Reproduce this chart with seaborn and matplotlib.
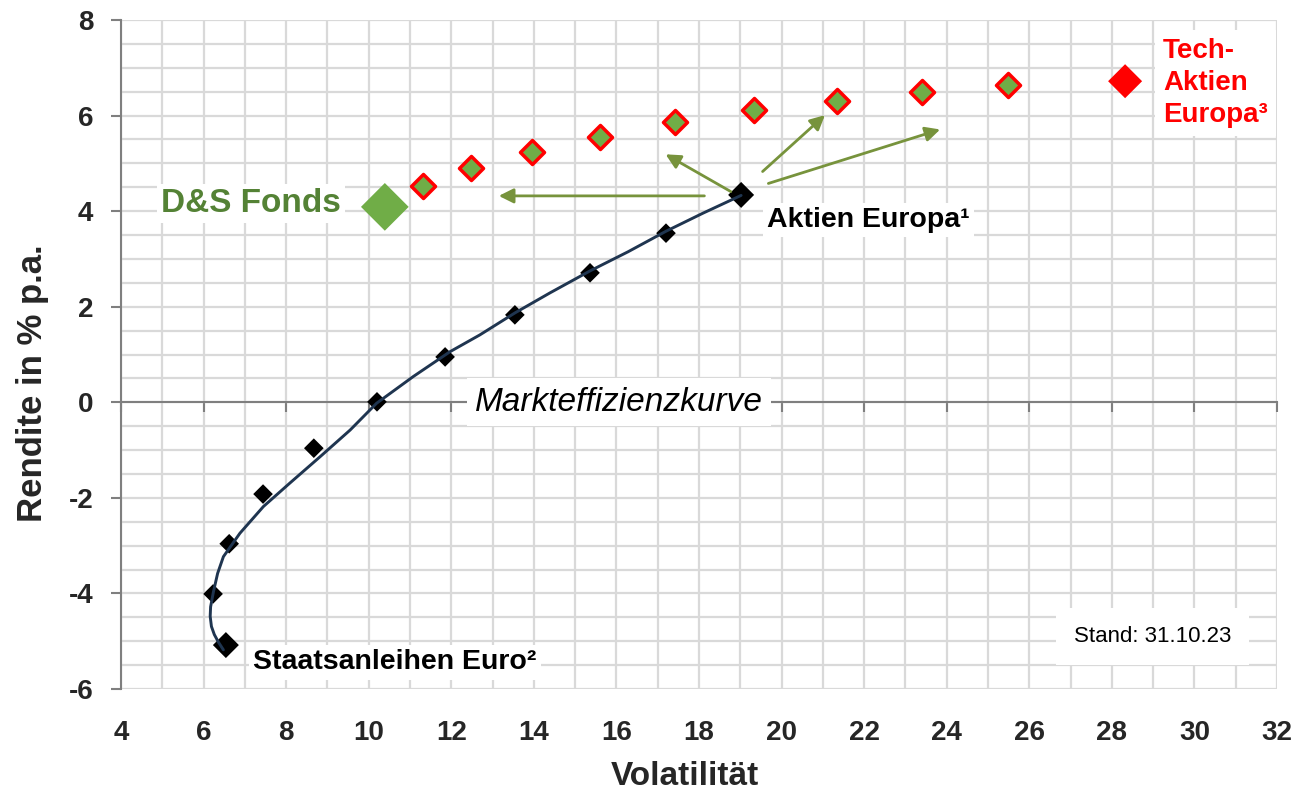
import numpy as np
import pandas as pd
import matplotlib.pyplot as plt
import seaborn as sns

# Markteffizienzkurve: Punkte (Volatilität, Rendite)
eff_vol = [17.20, 15.36, 13.54, 11.85, 10.20, 8.67, 7.44, 6.62, 6.23]
eff_ret = [3.54, 2.71, 1.83, 0.95, 0.01, -0.96, -1.92, -2.96, -4.01]
aktien_vol, aktien_ret = 19.02, 4.34
anleihen_vol, anleihen_ret = 6.54, -5.08

# Kurvenverlauf
curve_vol = [6.48, 6.36, 6.26, 6.19, 6.16, 6.17, 6.24, 6.34, 6.48, 6.88, 7.45, 8.09, 8.82, 9.55,
             10.19, 11.08, 11.97, 12.69, 13.54, 14.39, 15.36, 16.28, 17.20, 18.10, 19.02]
curve_ret = [-5.18, -5.02, -4.86, -4.69, -4.48, -4.28, -3.96, -3.58, -3.23, -2.74, -2.18, -1.69,
             -1.14, -0.58, -0.02, 0.54, 1.06, 1.41, 1.87, 2.29, 2.75, 3.15, 3.58, 3.96, 4.33]

# Mischungen D&S Fonds / Tech-Aktien
mix_vol = [11.31, 12.48, 13.96, 15.61, 17.42, 19.34, 21.34, 23.41, 25.49]
mix_ret = [4.53, 4.90, 5.24, 5.56, 5.86, 6.12, 6.31, 6.50, 6.63]
ds_vol, ds_ret = 10.39, 4.09
tech_vol, tech_ret = 28.32, 6.72

# Pfeile
arrow_x0 = [18.13, 18.77, 19.54, 19.68]
arrow_y0 = [4.32, 4.41, 4.83, 4.58]
arrow_x1 = [13.15, 17.19, 21.05, 23.84]
arrow_y1 = [4.32, 5.19, 6.01, 5.71]

x_ticks = list(range(4, 33, 2))
y_ticks = list(range(-6, 9, 2))

sns.set_theme(style='white')
plt.rcParams['font.family'] = ['Liberation Sans', 'DejaVu Sans']

green = '#70AD47'
dark_green = '#548235'
olive = '#77933C'
red = '#FF0000'
gray = '#7F7F7F'

fig = plt.figure(figsize=(12.97, 7.95), dpi=100)
ax = fig.add_axes([0.0933, 0.1333, 0.8913, 0.8415])

# Gitter
ax.set_xticks(x_ticks)
ax.set_yticks(y_ticks)
ax.set_xticks(np.arange(4, 32.01, 1), minor=True)
ax.set_yticks(np.arange(-6, 8.01, 0.5), minor=True)
ax.grid(which='both', color='#D9D9D9', linewidth=1.6)
ax.set_axisbelow(True)

df_curve = pd.DataFrame({'vol': curve_vol, 'ret': curve_ret})
df_eff = pd.DataFrame({'vol': eff_vol, 'ret': eff_ret})
df_mix = pd.DataFrame({'vol': mix_vol, 'ret': mix_ret})

sns.scatterplot(data=df_eff, x='vol', y='ret', marker='D', s=100, color='black',
                edgecolor='none', ax=ax, zorder=3)
sns.scatterplot(x=[aktien_vol, anleihen_vol], y=[aktien_ret, anleihen_ret], marker='D', s=175,
                color='black', edgecolor='none', ax=ax, zorder=3)
sns.lineplot(data=df_curve, x='vol', y='ret', sort=False, estimator=None, color='#1F3550',
             linewidth=2.1, ax=ax, zorder=4)
sns.scatterplot(data=df_mix, x='vol', y='ret', marker='D', s=150, color=green,
                edgecolor=red, linewidth=2.5, ax=ax, zorder=3)
sns.scatterplot(x=[ds_vol], y=[ds_ret], marker='D', s=590, color=green, edgecolor='none',
                ax=ax, zorder=3)
sns.scatterplot(x=[tech_vol], y=[tech_ret], marker='D', s=300, color=red, edgecolor='none',
                ax=ax, zorder=3)

for x0, y0, x1, y1 in zip(arrow_x0, arrow_y0, arrow_x1, arrow_y1):
    ax.annotate('', xy=(x1, y1), xytext=(x0, y0),
                arrowprops=dict(arrowstyle='-|>', color=olive, lw=2, mutation_scale=22,
                                shrinkA=0, shrinkB=0), zorder=5)

box = dict(facecolor='white', edgecolor='none', pad=3)
ax.text(4.97, 4.17, 'D&S Fonds', color=dark_green, fontsize=24, fontweight='bold',
        va='center', ha='left', bbox=box, zorder=6)
ax.text(19.65, 3.82, 'Aktien Europa¹', color='black', fontsize=20.5, fontweight='bold',
        va='center', ha='left', bbox=box, zorder=6)
ax.text(7.2, -5.44, 'Staatsanleihen Euro²', color='black', fontsize=20.5, fontweight='bold',
        va='center', ha='left', bbox=box, zorder=6)
ax.text(29.24, 6.68, 'Tech-\nAktien\nEuropa³', color=red, fontsize=20, fontweight='bold',
        va='center', ha='left', linespacing=1.3, bbox=dict(facecolor='white', edgecolor='none', pad=6),
        zorder=6)
ax.text(16.06, 0.0, 'Markteffizienzkurve', color='black', fontsize=24, fontstyle='italic',
        va='center', ha='center', bbox=dict(facecolor='white', edgecolor='none', pad=6), zorder=6)
ax.text(28.99, -4.91, 'Stand: 31.10.23', color='black', fontsize=16,
        va='center', ha='center', bbox=dict(facecolor='white', edgecolor='none', pad=13), zorder=6)

ax.set_xlim(4, 32)
ax.set_ylim(-6, 8)

# Achsen
for side in ['top', 'right']:
    ax.spines[side].set_visible(False)
ax.spines['left'].set_color(gray)
ax.spines['left'].set_linewidth(1.5)
ax.spines['bottom'].set_position(('data', 0))
ax.spines['bottom'].set_color(gray)
ax.spines['bottom'].set_linewidth(1.5)

ax.set_yticklabels([str(v) for v in y_ticks], fontweight='bold', fontsize=20)
ax.tick_params(axis='x', which='major', direction='out', length=7, width=1.5, color=gray,
               labelbottom=False, bottom=True)
ax.tick_params(axis='y', which='major', direction='out', length=7, width=1.5, color=gray,
               left=True, pad=13)
ax.tick_params(which='minor', length=0)

sec = ax.secondary_xaxis(0)
sec.set_xticks(x_ticks)
sec.set_xticklabels([str(v) for v in x_ticks], fontweight='bold', fontsize=20)
sec.tick_params(length=0, pad=22)
sec.spines['bottom'].set_visible(False)

ax.set_xlabel('Volatilität', fontsize=24, fontweight='bold')
ax.xaxis.set_label_coords(0.488, -0.108)
ax.set_ylabel('Rendite in % p.a.', fontsize=25, fontweight='bold')
ax.yaxis.set_label_coords(-0.062, 0.457)

fig.savefig('out.png', dpi=100)
